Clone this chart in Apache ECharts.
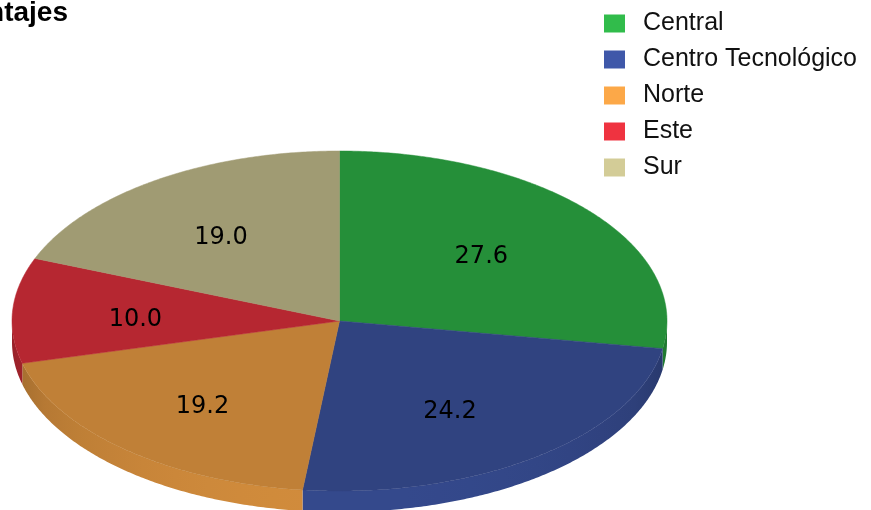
<!DOCTYPE html>
<html><head><meta charset="utf-8">
<script src="https://cdn.jsdelivr.net/npm/echarts@6/dist/echarts.min.js"></script>
<style>html,body{margin:0;padding:0;background:#fff}#c{width:871px;height:510px}</style>
</head><body><div id="c"></div>
<script>
const titleText = 'Porcentajes';
const categories = ['Central', 'Centro Tecnológico', 'Norte', 'Este', 'Sur'];
const values = [27.6, 24.2, 19.2, 10.0, 19.0];
const valueLabels = ['27.6', '24.2', '19.2', '10.0', '19.0'];
const legendColors = ['#31bc4b', '#3f58a9', '#fca848', '#ef3340', '#d3cc97'];

const CX = 339.5, CY = 321, RX = 327.5, RY = 170, DEPTH = 21;

function shade(hex, f) {
  const n = parseInt(hex.slice(1), 16);
  const r = Math.min(255, Math.round(((n >> 16) & 255) * f));
  const g = Math.min(255, Math.round(((n >> 8) & 255) * f));
  const b = Math.min(255, Math.round((n & 255) * f));
  return 'rgb(' + r + ',' + g + ',' + b + ')';
}

const total = values.reduce((a, b) => a + b, 0);
const starts = [];
let acc = 0;
values.forEach(v => { starts.push(acc); acc += v; });

function pt(t, dy) {
  return [CX + RX * Math.sin(t), CY - RY * Math.cos(t) + (dy || 0)];
}

function arc(a0, a1, dy) {
  const n = Math.max(6, Math.ceil((a1 - a0) / (Math.PI / 360)));
  const out = [];
  for (let k = 0; k <= n; k++) out.push(pt(a0 + (a1 - a0) * k / n, dy));
  return out;
}

function sideGradient(hex) {
  const stops = [];
  for (let k = 0; k <= 20; k++) {
    const u = -1 + 2 * k / 20;
    const f = 0.64 + 0.19 * Math.sqrt(Math.max(0, 1 - u * u));
    stops.push({ offset: k / 20, color: shade(hex, f) });
  }
  return { type: 'linear', x: CX - RX, y: 0, x2: CX + RX, y2: 0, global: true, colorStops: stops };
}

const pieData = categories.map((c, i) => ({ name: c, value: values[i], itemStyle: { color: legendColors[i] } }));
const customData = categories.map((c, i) => ({ name: c, value: [values[i], starts[i], i] }));

function renderItem(params, api) {
  const i = api.value(2);
  const a0 = api.value(1) / total * Math.PI * 2;
  const a1 = (api.value(1) + api.value(0)) / total * Math.PI * 2;
  const children = [];
  const s0 = Math.max(a0, Math.PI / 2), s1 = Math.min(a1, Math.PI * 1.5);
  if (s1 > s0) {
    const top = arc(s0, s1, 0);
    const bot = arc(s0, s1, DEPTH).reverse();
    children.push({
      type: 'polygon',
      shape: { points: top.concat(bot) },
      style: { fill: sideGradient(legendColors[i]), stroke: null }
    });
  }
  const pts = [[CX, CY]].concat(arc(a0, a1, 0));
  children.push({
    type: 'polygon',
    shape: { points: pts },
    style: { fill: shade(legendColors[i], 0.76), stroke: shade(legendColors[i], 0.76), lineWidth: 0.5 }
  });
  const mid = (a0 + a1) / 2;
  children.push({
    type: 'text',
    x: CX + 0.6 * RX * Math.sin(mid) - 8,
    y: CY - 0.63 * RY * Math.cos(mid) + 5,
    style: {
      text: valueLabels[i],
      fontSize: 24,
      fontFamily: 'DejaVu Sans',
      fill: '#000',
      align: 'center',
      verticalAlign: 'middle'
    }
  });
  return { type: 'group', children: children };
}

const chart = echarts.init(document.getElementById('c'), null, { renderer: 'canvas' });
chart.setOption({
  animation: false,
  backgroundColor: '#ffffff',
  title: {
    text: titleText,
    right: 803,
    top: -1,
    padding: 0,
    textStyle: { fontSize: 28, fontWeight: 'bold', fontFamily: 'Liberation Sans', color: '#000' }
  },
  legend: {
    orient: 'vertical',
    left: 604,
    top: 11,
    padding: 0,
    icon: 'rect',
    itemWidth: 21,
    itemHeight: 18,
    itemGap: 11,
    data: categories,
    selectedMode: false,
    textStyle: { fontSize: 25, fontFamily: 'Liberation Sans', color: '#111', padding: [0, 0, 0, 13] }
  },
  series: [
    {
      type: 'pie',
      radius: [0, 0],
      center: [CX, CY],
      silent: true,
      label: { show: false },
      labelLine: { show: false },
      data: pieData
    },
    {
      type: 'custom',
      coordinateSystem: 'none',
      renderItem: renderItem,
      silent: true,
      data: customData
    }
  ]
});
</script>
</body></html>
